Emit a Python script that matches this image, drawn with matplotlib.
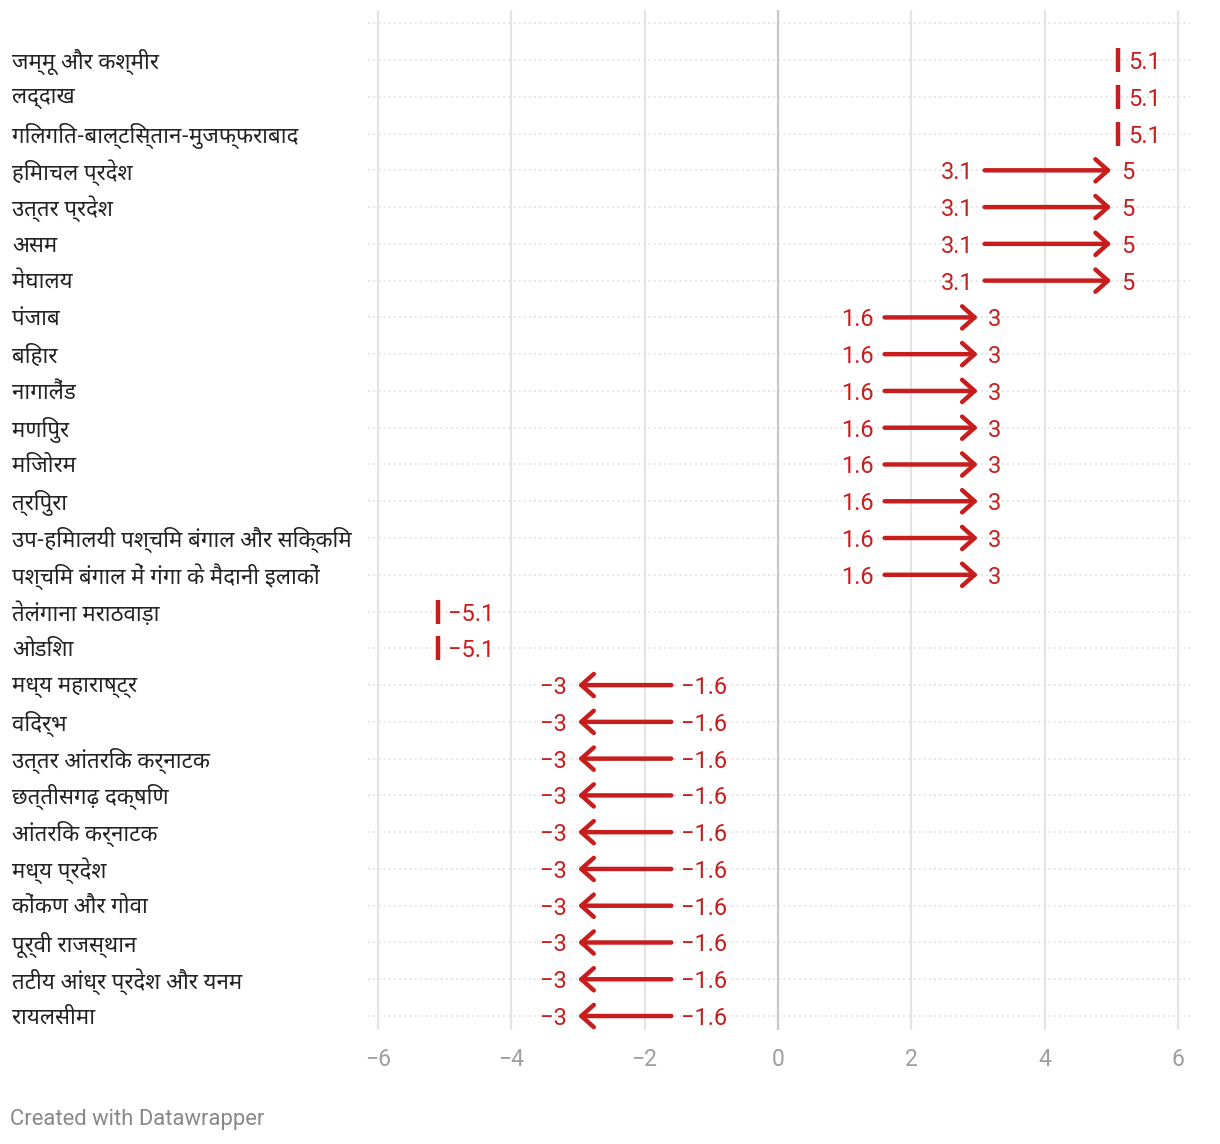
#!/usr/bin/env python3
"""Arrow chart: change in values per meteorological subdivision (Datawrapper style)."""

import matplotlib
matplotlib.use("Agg")
import matplotlib.pyplot as plt
import matplotlib.transforms as mtransforms
import numpy as np
from matplotlib import font_manager
from matplotlib.ft2font import FT2Font

REGIONS = [
    "जम्मू और कश्मीर",
    "लद्दाख",
    "गिलगित-बाल्टिस्तान-मुजफ्फराबाद",
    "हिमाचल प्रदेश",
    "उत्तर प्रदेश",
    "असम",
    "मेघालय",
    "पंजाब",
    "बिहार",
    "नागालैंड",
    "मणिपुर",
    "मिजोरम",
    "त्रिपुरा",
    "उप-हिमालयी पश्चिम बंगाल और सिक्किम",
    "पश्चिम बंगाल में गंगा के मैदानी इलाकों",
    "तेलंगाना मराठवाड़ा",
    "ओडिशा",
    "मध्य महाराष्ट्र",
    "विदर्भ",
    "उत्तर आंतरिक कर्नाटक",
    "छत्तीसगढ़ दक्षिण",
    "आंतरिक कर्नाटक",
    "मध्य प्रदेश",
    "कोंकण और गोवा",
    "पूर्वी राजस्थान",
    "तटीय आंध्र प्रदेश और यनम",
    "रायलसीमा",
]
START = [5.1, 5.1, 5.1, 3.1, 3.1, 3.1, 3.1, 1.6, 1.6, 1.6, 1.6, 1.6, 1.6, 1.6, 1.6,
         -5.1, -5.1, -1.6, -1.6, -1.6, -1.6, -1.6, -1.6, -1.6, -1.6, -1.6, -1.6]
END = [5.1, 5.1, 5.1, 5, 5, 5, 5, 3, 3, 3, 3, 3, 3, 3, 3,
       -5.1, -5.1, -3, -3, -3, -3, -3, -3, -3, -3, -3, -3]
X_TICKS = [-6, -4, -2, 0, 2, 4, 6]

RED = "#c71e1d"
TICK_GREY = "#9e9e9e"
PREFERRED = ["Noto Sans Devanagari", "Hind", "Mukta", "Poppins", "Baloo 2", "FreeSans"]


def _devanagari_family():
    # pick an installed font with Devanagari glyphs, preferring sans faces like the original
    found = []
    for f in font_manager.fontManager.ttflist:
        try:
            if 0x0915 in FT2Font(f.fname).get_charmap():
                found.append(f.name)
        except Exception:
            continue
    for name in PREFERRED:
        if name in found:
            return name
    return found[0] if found else None


def _fmt(v):
    return f"{v:g}".replace("-", "\u2212")


deva = _devanagari_family()
label_family = ([deva] if deva else []) + ["Roboto", "DejaVu Sans"]
num_family = ["Roboto", "DejaVu Sans"]

fig = plt.figure(figsize=(12.2, 11.44), dpi=100)
ax = fig.add_axes([0.3016, 1 - 1030 / 1144, (1190 - 368) / 1220, 1020 / 1144])

n = len(REGIONS)
ax.set_xlim(-6.15, 6.18)
ax.set_ylim(26.38, -1.36)

# grid
ax.hlines(np.arange(-1, n), -6.15, 6.18, colors="#dddddd", linestyles=(0, (1.2, 2.2)),
          linewidth=1.1, zorder=1)
for t in X_TICKS:
    ax.axvline(t, color="#c8c8c8" if t == 0 else "#e4e4e4", linewidth=1.6, zorder=1)

for spine in ax.spines.values():
    spine.set_visible(False)
ax.set_yticks([])
ax.set_xticks(X_TICKS)
ax.set_xticklabels([_fmt(t) for t in X_TICKS], family=num_family, fontsize=16.5, color=TICK_GREY)
ax.tick_params(axis="x", length=0, pad=13)

# row labels sit at the left edge of the figure, nudged ~2px down to the row centre
lab_tf = mtransforms.blended_transform_factory(fig.transFigure, ax.transData) + \
    mtransforms.ScaledTranslation(0, -2 / 100, fig.dpi_scale_trans)
for i, (name, s, e) in enumerate(zip(REGIONS, START, END)):
    ax.text(12 / 1220, i, name, transform=lab_tf, family=label_family, fontsize=16,
            color="#222222", ha="left", va="center")

    if s == e:
        ax.plot([s], [i], marker="|", markersize=17, mew=3.2, color=RED, zorder=3)
        ax.annotate(_fmt(s), (s, i), xytext=(7, 0), textcoords="offset points",
                    ha="left", va="center_baseline", family=num_family, fontsize=17, color=RED)
        continue

    ax.annotate("", xy=(e, i), xytext=(s, i),
                arrowprops=dict(arrowstyle="->,head_length=0.45,head_width=0.4", lw=3.2,
                                color=RED, shrinkA=0, shrinkB=0, mutation_scale=20,
                                capstyle="round"),
                zorder=3)
    lo, hi = min(s, e), max(s, e)
    ax.annotate(_fmt(lo), (lo, i), xytext=(-8, 0), textcoords="offset points",
                ha="right", va="center_baseline", family=num_family, fontsize=17, color=RED)
    ax.annotate(_fmt(hi), (hi, i), xytext=(7, 0), textcoords="offset points",
                ha="left", va="center_baseline", family=num_family, fontsize=17, color=RED)

fig.text(10 / 1220, 1 - 1120 / 1144, "Created with Datawrapper", family=num_family,
         fontsize=15.8, color="#888888", ha="left", va="center")

fig.savefig("out.png", dpi=100)
